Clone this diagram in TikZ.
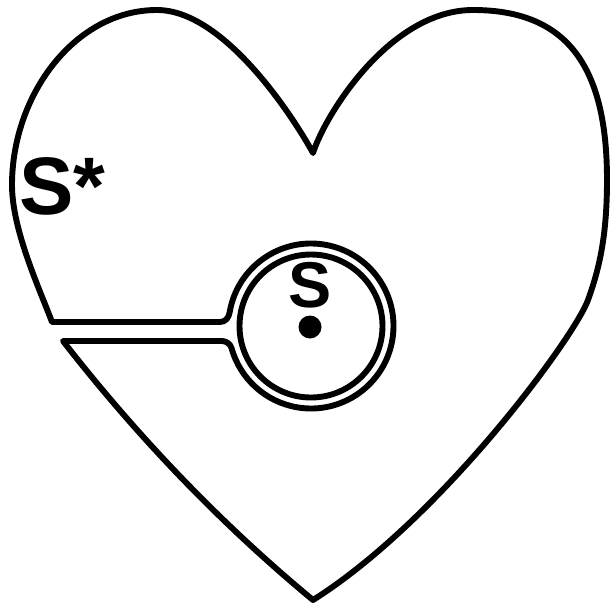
\documentclass[tikz,border=0pt]{standalone}
\usepackage{fontspec}
\setsansfont{Liberation Sans}
\usepackage{tikz}
\usetikzlibrary{calc,positioning}
\tikzset{
    hrtEdge/.style={draw=black, line width=4.2pt, line join=round},
    hrtRing/.style={draw=black, line width=4.2pt},
    hrtLabel/.style={font=\fontsize{#1}{#1}\selectfont\sffamily\bfseries, inner sep=0pt, text=black}
}
\begin{document}
\begin{tikzpicture}[x=0.025cm, y=-0.025cm]
\useasboundingbox (0,0) rectangle (610,604);
% Ring centre and the two ends of the slit
\coordinate (ctr) at (311,326);
\coordinate (src) at (310,327);
\coordinate (in1) at ($(ctr)+(189.7:82.5)$);
\coordinate (in2) at ($(ctr)+(164.6:82.5)$);

% Heart with the slit into the ring
\draw[hrtEdge] (313,153)
  .. controls (295,120) and (225,10) .. (157,10)
  .. controls (75,10) and (12,95) .. (12,185)
  .. controls (12,230) and (40,290) .. (52,322)
  -- (220,322)
  .. controls (226,322) and ($(in1)+(-0.8,5)$) .. (in1)
  arc[start angle=189.7, end angle=524.6, radius=82.5]
  .. controls ($(in2)+(-1.1,-4)$) and (226,341) .. (222,341)
  -- (63,341)
  .. controls (137,436) and (220,523) .. (313,600)
  .. controls (440,520) and (574,338) .. (588,300)
  .. controls (598,272) and (607,240) .. (607,180)
  .. controls (607,70) and (570,10) .. (473,10)
  .. controls (390,10) and (325,115) .. (313,153) -- cycle;

% Inner ring and source point
\draw[hrtRing] (ctr) circle[radius=71.5];
\fill (src) circle[radius=11.5];

% Labels
\node[hrtLabel=46, anchor=base] (sLbl) at (310,307) {S};
\node[hrtLabel=58, anchor=base west] (sStar) at (19,214) {S*};
\end{tikzpicture}
\end{document}
